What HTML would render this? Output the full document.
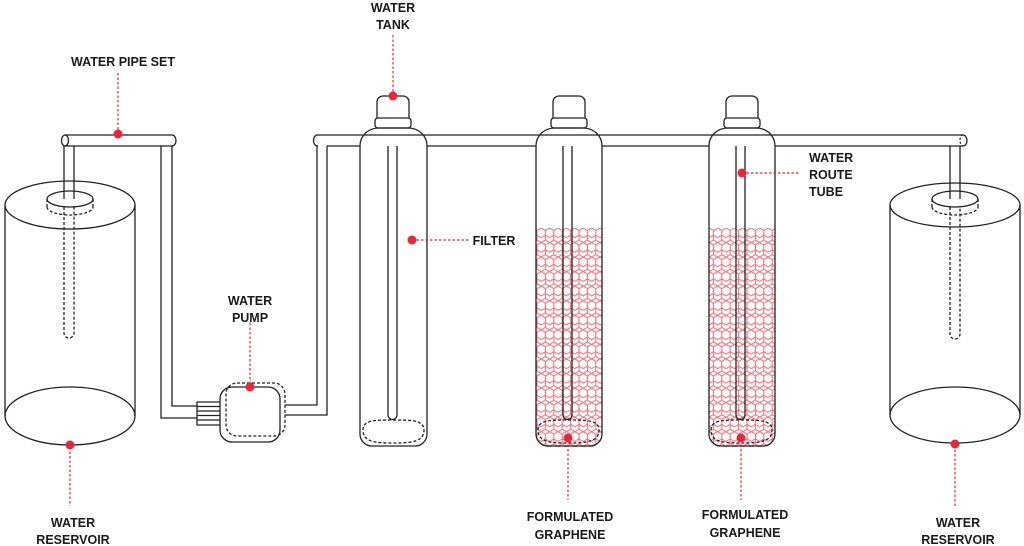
<!DOCTYPE html>
<html><head><meta charset="utf-8"><style>
html,body{margin:0;padding:0;background:#fff;}
svg{display:block}
text{font-family:"Liberation Sans",Arial,sans-serif;font-weight:bold;font-size:12.5px;fill:#1a1a1a;text-anchor:middle}
</style></head><body>
<svg width="1024" height="546" viewBox="0 0 1024 546" xmlns="http://www.w3.org/2000/svg">
<defs>
<pattern id="hex" width="8.4" height="14.55" patternUnits="userSpaceOnUse" x="537" y="228">
<g fill="none" stroke="#ef7480" stroke-width="1.1">
<path d="M4.2,0 L8.4,2.42 L8.4,7.27 L4.2,9.7 L0,7.27 L0,2.42 Z"/>
<path d="M0,7.27 L0,12.12 L-4.2,14.55 M8.4,7.27 L8.4,12.12 L4.2,14.55 L0,12.12 M8.4,12.12 L12.6,14.55"/>
</g>
</pattern>
<clipPath id="c2"><rect x="536" y="137" width="66" height="310" rx="12"/></clipPath>
<clipPath id="c3"><rect x="709" y="137" width="66" height="310" rx="12"/></clipPath>
</defs>

<rect x="536" y="228" width="66" height="220" fill="url(#hex)" clip-path="url(#c2)"/>
<rect x="709" y="228" width="66" height="220" fill="url(#hex)" clip-path="url(#c3)"/>

<g fill="none" stroke="#222" stroke-width="1.3">
<ellipse cx="70" cy="205" rx="65" ry="24"/>
<line x1="5" y1="205" x2="5" y2="416"/><line x1="135" y1="205" x2="135" y2="416"/>
<ellipse cx="70" cy="416" rx="65" ry="29"/>
<ellipse cx="70" cy="199" rx="23" ry="8"/>
<path d="M47,199 v8 M93,199 v8" stroke-dasharray="3,2"/>
<path d="M47,207 A23,8 0 0 0 93,207" stroke-dasharray="3,2"/>
<path d="M64,207 V333 A5,5 0 0 0 74,333 V207" stroke-dasharray="3,2"/>
<line x1="64" y1="146" x2="64" y2="199"/><line x1="74" y1="146" x2="74" y2="199"/>
<path d="M65,135 H172 A4,5.5 0 0 1 172,146 H65"/>
<ellipse cx="65" cy="140.5" rx="3.5" ry="5.5"/>
<path d="M161,146 V418 H197 M172,146 V406 H197"/>
<path d="M197,402 H220 M197,406.5 H220 M197,411 H220 M197,415.5 H220 M197,420 H220 M197,425 H220 M197,402 V425"/>
<rect x="220" y="387" width="60" height="55" rx="12"/>
<rect x="226" y="383" width="59" height="53" rx="11" stroke-dasharray="3,2"/>
<path d="M285,405 H317 V146 M285,415 H327 V146"/>
<path d="M318,135 H963 A4,5.5 0 0 1 963,146 H775 M709,146 H602 M536,146 H427 M360,146 H327 M317,146 H318"/>
<path d="M318,135 A4,5.5 0 0 0 317,146"/>
<path d="M963,135 A3,5.5 0 0 0 963,146" stroke-dasharray="2,2"/>

<path d="M360,146 V434 A12,12 0 0 0 372,446 H415 A12,12 0 0 0 427,434 V146 C427,135 418,128 408,128 H379 C369,128 360,135 360,146"/>
<rect x="375" y="118" width="36" height="10" rx="3"/>
<path d="M377,118 V102 A6,6 0 0 1 383,96 H403 A6,6 0 0 1 409,102 V118"/>
<path d="M388,146 V415 A4.5,4.5 0 0 0 397,415 V146"/>
<path d="M363,430 C363,420 375,420 393,420 C411,420 424,420 424,430 C424,442 411,443 393,443 C375,443 363,442 363,430" stroke-dasharray="3,2"/>

<path d="M536,146 V434 A12,12 0 0 0 548,446 H590 A12,12 0 0 0 602,434 V146 C602,135 593,128 583,128 H555 C545,128 536,135 536,146"/>
<rect x="551" y="118" width="36" height="10" rx="3"/>
<path d="M553,118 V102 A6,6 0 0 1 559,96 H579 A6,6 0 0 1 585,102 V118"/>
<path d="M563,146 V415 A4.5,4.5 0 0 0 572,415 V146"/>
<path d="M538,430 C538,420 550,420 568,420 C586,420 599,420 599,430 C599,442 586,443 568,443 C550,443 538,442 538,430" stroke-dasharray="3,2"/>

<path d="M709,146 V434 A12,12 0 0 0 721,446 H763 A12,12 0 0 0 775,434 V146 C775,135 766,128 756,128 H728 C718,128 709,135 709,146"/>
<rect x="724" y="118" width="36" height="10" rx="3"/>
<path d="M726,118 V102 A6,6 0 0 1 732,96 H752 A6,6 0 0 1 758,102 V118"/>
<path d="M736,146 V415 A4.5,4.5 0 0 0 745,415 V146"/>
<path d="M711,430 C711,420 723,420 741,420 C759,420 772,420 772,430 C772,442 759,443 741,443 C723,443 711,442 711,430" stroke-dasharray="3,2"/>

<ellipse cx="955" cy="205" rx="65" ry="22"/>
<line x1="890" y1="205" x2="890" y2="415"/><line x1="1020" y1="205" x2="1020" y2="415"/>
<ellipse cx="955" cy="415" rx="65" ry="28"/>
<ellipse cx="955" cy="199" rx="23" ry="8"/>
<path d="M932,199 v8 M978,199 v8" stroke-dasharray="3,2"/>
<path d="M932,207 A23,8 0 0 0 978,207" stroke-dasharray="3,2"/>
<path d="M950,207 V334 A5,5 0 0 0 960,334 V207" stroke-dasharray="3,2"/>
<line x1="950" y1="146" x2="950" y2="199"/><line x1="960" y1="146" x2="960" y2="199"/>
</g>

<g stroke="#e8283a" stroke-width="1.2" stroke-dasharray="2.5,2" fill="none">
<line x1="118" y1="73" x2="118" y2="133"/>
<line x1="393" y1="35" x2="393" y2="95"/>
<line x1="250" y1="323" x2="250" y2="386"/>
<line x1="70" y1="447" x2="70" y2="506"/>
<line x1="412" y1="240" x2="470" y2="240"/>
<line x1="568" y1="440" x2="568" y2="500"/>
<line x1="741" y1="440" x2="741" y2="500"/>
<line x1="742" y1="173" x2="800" y2="173"/>
<line x1="955" y1="445" x2="955" y2="506"/>
</g>
<g fill="#e8283a">
<circle cx="118" cy="134" r="4.5"/>
<circle cx="393" cy="96" r="4.5"/>
<circle cx="250" cy="387" r="4.5"/>
<circle cx="70" cy="445" r="4.5"/>
<circle cx="412" cy="240" r="4.5"/>
<circle cx="568" cy="438" r="4.5"/>
<circle cx="741" cy="438" r="4.5"/>
<circle cx="742" cy="173" r="4.5"/>
<circle cx="955" cy="444" r="4.5"/>
</g>

<text x="123" y="66">WATER PIPE SET</text>
<text x="393" y="12">WATER</text>
<text x="393" y="29">TANK</text>
<text x="250" y="305">WATER</text>
<text x="250" y="322">PUMP</text>
<text x="494" y="245">FILTER</text>
<text x="809" y="162" style="text-anchor:start">WATER</text>
<text x="809" y="179" style="text-anchor:start">ROUTE</text>
<text x="809" y="196" style="text-anchor:start">TUBE</text>
<text x="73" y="527">WATER</text>
<text x="73" y="544">RESERVOIR</text>
<text x="570" y="521">FORMULATED</text>
<text x="570" y="539">GRAPHENE</text>
<text x="745" y="519">FORMULATED</text>
<text x="745" y="537">GRAPHENE</text>
<text x="958" y="527">WATER</text>
<text x="958" y="544">RESERVOIR</text>
</svg>
</body></html>
